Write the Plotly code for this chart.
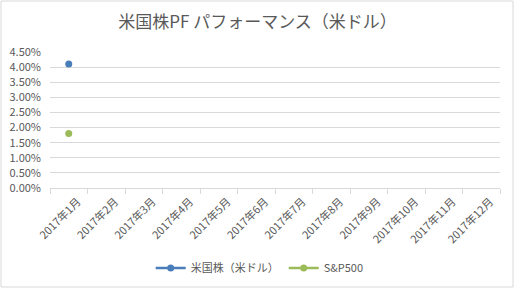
import plotly.graph_objects as go

months = ["2017年1月", "2017年2月", "2017年3月", "2017年4月", "2017年5月", "2017年6月",
          "2017年7月", "2017年8月", "2017年9月", "2017年10月", "2017年11月", "2017年12月"]
us_stock = [0.041] + [None] * 11
sp500 = [0.018] + [None] * 11
tick_vals = [0, 0.005, 0.01, 0.015, 0.02, 0.025, 0.03, 0.035, 0.04, 0.045]

FONT = "Noto Sans CJK JP"
GREY = "#595959"

fig = go.Figure()
fig.add_trace(go.Scatter(x=months, y=us_stock, name="米国株（米ドル）", mode="lines+markers",
                         line=dict(color="#4A7EBB", width=2.5), marker=dict(size=7, color="#4A7EBB")))
fig.add_trace(go.Scatter(x=months, y=sp500, name="S&P500", mode="lines+markers",
                         line=dict(color="#9BBB59", width=2.5), marker=dict(size=7, color="#9BBB59")))

L, R, T, B = 50, 15, 52, 101
W, H = 515, 289
pw, ph = W - L - R, H - T - B

fig.update_layout(
    width=W, height=H,
    margin=dict(l=L, r=R, t=T, b=B, autoexpand=False),
    paper_bgcolor="white", plot_bgcolor="white",
    font=dict(family=FONT, color=GREY, size=11),
    title=dict(text="米国株PF パフォーマンス（米ドル）", x=0.5, xanchor="center", y=1 - 22 / H, yanchor="middle",
               font=dict(family=FONT, size=17, color=GREY)),
    showlegend=True,
    legend=dict(orientation="h", x=0.466, xanchor="center", y=(ph - (268 - T)) / ph, yanchor="middle",
                font=dict(family=FONT, size=11, color=GREY), bgcolor="rgba(0,0,0,0)"),
    xaxis=dict(type="category", categoryorder="array", categoryarray=months, range=[-0.5, 11.5],
               tickangle=-45, showgrid=False, showline=True, linecolor="#d9d9d9", linewidth=1,
               ticks="outside", tickson="boundaries", tickcolor="#d9d9d9", ticklen=5,
               ticklabelshift=9, ticklabelstandoff=2, automargin=False,
               tickfont=dict(family=FONT, size=11, color=GREY), fixedrange=True),
    yaxis=dict(range=[0, 0.045], tickvals=tick_vals, tickformat=".2%", showgrid=True, gridcolor="#d9d9d9",
               gridwidth=1, zeroline=False, showline=False, ticks="", ticklabelstandoff=8, automargin=False,
               tickfont=dict(family=FONT, size=11, color=GREY), fixedrange=True),
)

# chart border
fig.add_shape(type="rect", xref="paper", yref="paper",
              x0=-(L - 1) / pw, x1=(W - L - 2) / pw, y0=-(B - 2) / ph, y1=(ph + T - 1) / ph,
              line=dict(color="#d9d9d9", width=1), fillcolor="rgba(0,0,0,0)", layer="below")

fig.write_html("out.html")
